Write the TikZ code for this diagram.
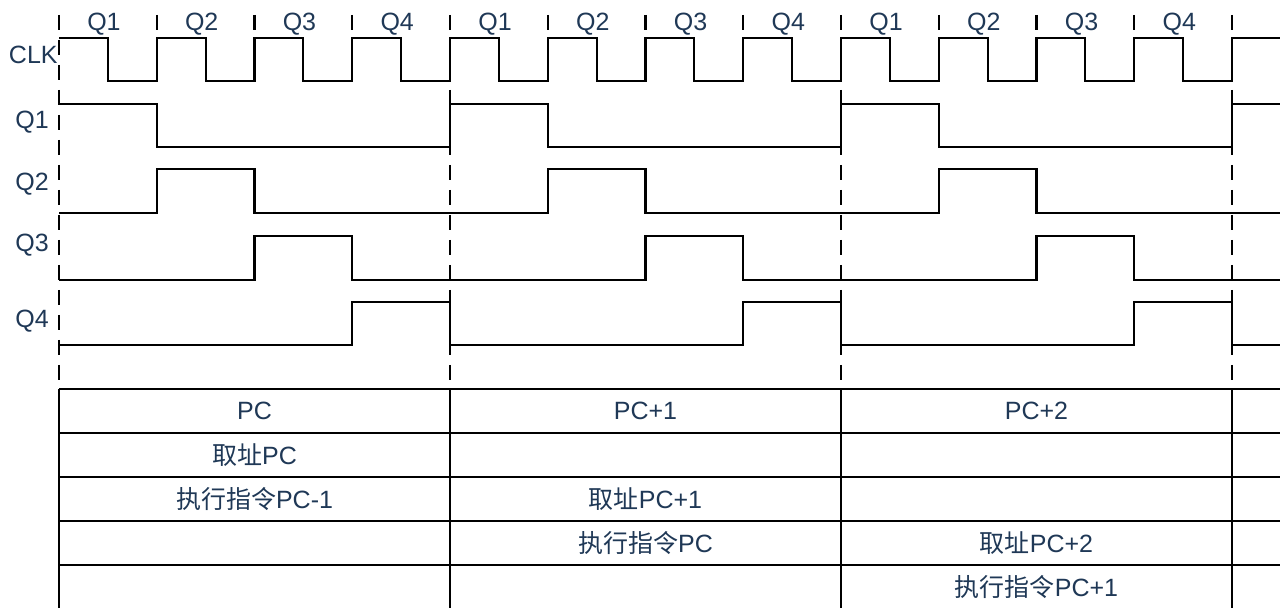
\documentclass[tikz,border=0pt]{standalone}
\usepackage{xcolor}
\usepackage{fontspec}
\setmainfont{Liberation Sans}
\newfontfamily\cjk{Noto Sans CJK SC}
\usepackage{tikz}
\usetikzlibrary{positioning}

\definecolor{labelblue}{RGB}{31,56,86}
\newcommand{\zh}[1]{{\cjk #1}}

\begin{document}
\begin{tikzpicture}[x=48.875pt, y=-0.5pt,
    wave/.style={line width=1.1pt, line join=miter},
    rule/.style={line width=1.1pt},
    cycline/.style={line width=1.1pt, dash pattern=on 7.5pt off 5pt},
    lbl/.style={text=labelblue, font=\fontsize{12.5}{15}\selectfont, inner sep=0pt}]
  \useasboundingbox (-0.6036,0) rectangle (12.532,608);

  % cycle boundaries and quarter ticks
  \foreach \c in {0,4,8,12}
    \draw[cycline] (\c,15) -- (\c,389);
  \foreach \q in {1,2,3,5,6,7,9,10,11}
    \draw[rule] (\q,15) -- (\q,30);

  % quarter names
  \foreach \c in {0,1,2}
    \foreach \q in {1,...,4}
      \node[lbl] (top\c\q) at ({4*\c+\q-0.54},24) {Q\q};

  % signal names
  \node[lbl, anchor=east] (clk) at (-0.01,55) {CLK};
  \node[lbl, anchor=east] (nq1) at (-0.1,122) {Q1};
  \node[lbl, anchor=east] (nq2) at (-0.1,184) {Q2};
  \node[lbl, anchor=east] (nq3) at (-0.1,245) {Q3};
  \node[lbl, anchor=east] (nq4) at (-0.1,321) {Q4};

  % clock
  \draw[wave] (0,38) \foreach \k in {0,...,11} { -- (\k+0.5,38) -- (\k+0.5,81) -- (\k+1,81) -- (\k+1,38) } -- (12.49,38);

  % phases
  \draw[wave] (0,104) -- (1,104) -- (1,147) -- (4,147) -- (4,104) -- (5,104) -- (5,147) -- (8,147)
    -- (8,104) -- (9,104) -- (9,147) -- (12,147) -- (12,104) -- (12.49,104);
  \draw[wave] (0,213) -- (1,213) -- (1,169) -- (2,169) -- (2,213) -- (5,213) -- (5,169) -- (6,169)
    -- (6,213) -- (9,213) -- (9,169) -- (10,169) -- (10,213) -- (12.49,213);
  \draw[wave] (0,280) -- (2,280) -- (2,236) -- (3,236) -- (3,280) -- (6,280) -- (6,236) -- (7,236)
    -- (7,280) -- (10,280) -- (10,236) -- (11,236) -- (11,280) -- (12.49,280);
  \draw[wave] (0,345) -- (3,345) -- (3,302) -- (4,302) -- (4,345) -- (7,345) -- (7,302) -- (8,302)
    -- (8,345) -- (11,345) -- (11,302) -- (12,302) -- (12,345) -- (12.49,345);

  % pipeline table
  \foreach \r in {389,433,477,521,565}
    \draw[rule] (0,\r) -- (12.49,\r);
  \foreach \c in {0,4,8,12}
    \draw[rule] (\c,389) -- (\c,608);

  \node[lbl] (pc0) at (2,411) {PC};
  \node[lbl] (pc1) at (6,411) {PC+1};
  \node[lbl] (pc2) at (10,411) {PC+2};
  \node[lbl] (fetch0) at (2,455) {\zh{取址}PC};
  \node[lbl] (exec0) at (2,499) {\zh{执行指令}PC-1};
  \node[lbl] (fetch1) at (6,499) {\zh{取址}PC+1};
  \node[lbl] (exec1) at (6,543) {\zh{执行指令}PC};
  \node[lbl] (fetch2) at (10,543) {\zh{取址}PC+2};
  \node[lbl] (exec2) at (10,587) {\zh{执行指令}PC+1};
\end{tikzpicture}
\end{document}
